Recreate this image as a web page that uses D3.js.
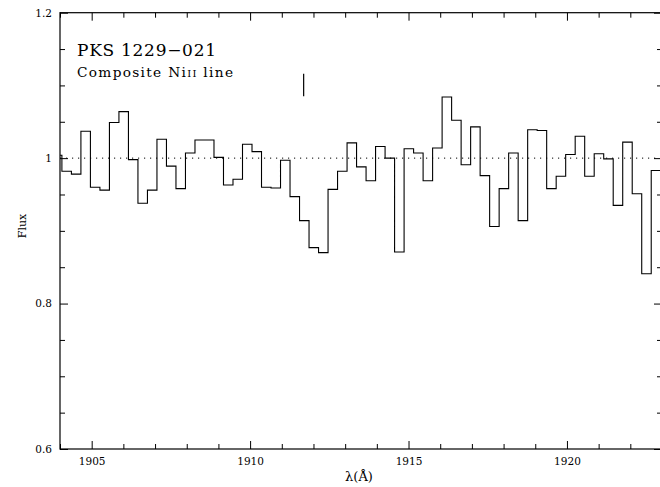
<!DOCTYPE html>
<html>
<head>
<meta charset="utf-8">
<script src="https://cdn.jsdelivr.net/npm/d3@7"></script>
<style>
  html, body { margin: 0; padding: 0; background: #fff; }
  svg { display: block; }
  text { font-family: "DejaVu Serif", serif; fill: #000; }
</style>
</head>
<body>
<svg id="chart" width="660" height="487"></svg>
<script>
// Left edges of the spectral bins (Å); the last entry closes the final bin.
const binEdges = [
  1903.76, 1904.06, 1904.36, 1904.66, 1904.96, 1905.26, 1905.56, 1905.86, 1906.16, 1906.46,
  1906.76, 1907.06, 1907.36, 1907.66, 1907.96, 1908.26, 1908.56, 1908.86, 1909.16, 1909.46,
  1909.76, 1910.06, 1910.36, 1910.66, 1910.96, 1911.26, 1911.56, 1911.86, 1912.16, 1912.46,
  1912.76, 1913.06, 1913.36, 1913.66, 1913.96, 1914.26, 1914.56, 1914.86, 1915.16, 1915.46,
  1915.76, 1916.06, 1916.36, 1916.66, 1916.96, 1917.26, 1917.56, 1917.86, 1918.16, 1918.46,
  1918.76, 1919.06, 1919.36, 1919.66, 1919.96, 1920.26, 1920.56, 1920.86, 1921.16, 1921.46,
  1921.76, 1922.06, 1922.36, 1922.66, 1922.96
];

// Normalised flux in each bin.
const flux = [
  1.004, 0.982, 0.978, 1.037, 0.960, 0.956, 1.049, 1.064, 0.998, 0.938,
  0.956, 1.026, 0.989, 0.958, 1.007, 1.025, 1.025, 1.001, 0.963, 0.971,
  1.019, 1.009, 0.960, 0.959, 0.997, 0.947, 0.914, 0.877, 0.870, 0.957,
  0.982, 1.021, 0.988, 0.969, 1.016, 1.000, 0.871, 1.013, 1.007, 0.969,
  1.014, 1.084, 1.052, 0.991, 1.043, 0.976, 0.906, 0.958, 1.007, 0.914,
  1.039, 1.038, 0.958, 0.975, 1.005, 1.030, 0.975, 1.006, 0.999, 0.935,
  1.022, 0.951, 0.841, 0.983
];

// Axis ticks
const xMajorTicks = [1905, 1910, 1915, 1920];
const xMinorTicks = [1904, 1906, 1907, 1908, 1909, 1911, 1912, 1913, 1914, 1916, 1917, 1918, 1919, 1921, 1922];
const yMajorTicks = [0.6, 0.8, 1.0, 1.2];
const yMinorTicks = [0.65, 0.7, 0.75, 0.85, 0.9, 0.95, 1.05, 1.1, 1.15];

// Continuum level and line-position marker
const continuum = 1.0;
const markerWave = 1911.69;
const markerFlux = [1.085, 1.116];

const titleText = "PKS 1229\u2212021";
const xLabel = "\u03bb(\u00c5)";
const yLabel = "Flux";

const svg = d3.select("#chart");
const W = 660, H = 487;
const plotL = 60, plotR = 662, plotT = 12.7, plotB = 449;

svg.append("rect").attr("width", W).attr("height", H).attr("fill", "#fff");

const x = d3.scaleLinear().domain([1904, 1923]).range([plotL, plotR]);
const y = d3.scaleLinear().domain([0.6, 1.2]).range([plotB, plotT]);

svg.append("clipPath").attr("id", "plotclip")
  .append("rect").attr("x", plotL).attr("y", plotT)
  .attr("width", plotR - plotL).attr("height", plotB - plotT);

// Axes: major and minor ticks on all four sides, pointing inwards
function styleAxis(g) {
  g.select(".domain").remove();
  g.selectAll(".tick line").attr("stroke", "#000").attr("stroke-width", 1);
  g.selectAll(".tick text")
    .attr("font-family", "DejaVu Serif, serif")
    .attr("font-size", 10.5)
    .attr("fill", "#000");
}

svg.append("g").attr("transform", `translate(0,${plotB})`)
  .call(d3.axisBottom(x).tickValues(xMajorTicks).tickSize(-8).tickPadding(9).tickFormat(d3.format("d")))
  .call(styleAxis);
svg.append("g").attr("transform", `translate(0,${plotB})`)
  .call(d3.axisBottom(x).tickValues(xMinorTicks).tickSize(-5).tickFormat(""))
  .call(styleAxis);
svg.append("g").attr("transform", `translate(0,${plotT})`)
  .call(d3.axisTop(x).tickValues(xMajorTicks).tickSize(-8).tickFormat(""))
  .call(styleAxis);
svg.append("g").attr("transform", `translate(0,${plotT})`)
  .call(d3.axisTop(x).tickValues(xMinorTicks).tickSize(-5).tickFormat(""))
  .call(styleAxis);

const yFmt = d => (d === 1 ? "1" : d.toFixed(1));
svg.append("g").attr("transform", `translate(${plotL},0)`)
  .call(d3.axisLeft(y).tickValues(yMajorTicks).tickSize(-8).tickPadding(8).tickFormat(yFmt))
  .call(styleAxis);
svg.append("g").attr("transform", `translate(${plotL},0)`)
  .call(d3.axisLeft(y).tickValues(yMinorTicks).tickSize(-5).tickFormat(""))
  .call(styleAxis);
svg.append("g").attr("transform", `translate(${plotR},0)`)
  .call(d3.axisRight(y).tickValues(yMajorTicks).tickSize(-8).tickFormat(""))
  .call(styleAxis);
svg.append("g").attr("transform", `translate(${plotR},0)`)
  .call(d3.axisRight(y).tickValues(yMinorTicks).tickSize(-5).tickFormat(""))
  .call(styleAxis);

// Frame
svg.append("rect")
  .attr("x", plotL).attr("y", plotT)
  .attr("width", plotR - plotL).attr("height", plotB - plotT)
  .attr("fill", "none").attr("stroke", "#000").attr("stroke-width", 1.2);

// Continuum (dotted)
svg.append("line")
  .attr("x1", plotL).attr("x2", plotR)
  .attr("y1", y(continuum)).attr("y2", y(continuum))
  .attr("stroke", "#000").attr("stroke-width", 1)
  .attr("stroke-dasharray", "1.2,4.8");

// Binned spectrum as a histogram-style step line
const pts = flux.map((v, i) => [binEdges[i], v]);
pts.push([binEdges[binEdges.length - 1], flux[flux.length - 1]]);
const stepLine = d3.line()
  .x(d => x(d[0])).y(d => y(d[1]))
  .curve(d3.curveStepAfter);
svg.append("path")
  .datum(pts)
  .attr("clip-path", "url(#plotclip)")
  .attr("d", stepLine)
  .attr("fill", "none").attr("stroke", "#000").attr("stroke-width", 1.1);

// Expected line position
svg.append("line")
  .attr("x1", x(markerWave)).attr("x2", x(markerWave))
  .attr("y1", y(markerFlux[0])).attr("y2", y(markerFlux[1]))
  .attr("stroke", "#000").attr("stroke-width", 1.2);

// Labels
svg.append("text")
  .attr("x", 77).attr("y", 55.7)
  .attr("font-size", 17)
  .attr("textLength", 139).attr("lengthAdjust", "spacing")
  .text(titleText);

const sub = svg.append("text")
  .attr("x", 77).attr("y", 76.7)
  .attr("font-size", 13.7)
  .attr("textLength", 156).attr("lengthAdjust", "spacing");
sub.append("tspan").text("Composite Ni");
sub.append("tspan").attr("font-size", 10).text("II");
sub.append("tspan").text(" line");

svg.append("text")
  .attr("x", 359).attr("y", 481)
  .attr("text-anchor", "middle")
  .attr("font-size", 13)
  .text(xLabel);

svg.append("text")
  .attr("transform", "translate(25.5,226) rotate(-90)")
  .attr("text-anchor", "middle")
  .attr("font-size", 11)
  .text(yLabel);
</script>
</body>
</html>
